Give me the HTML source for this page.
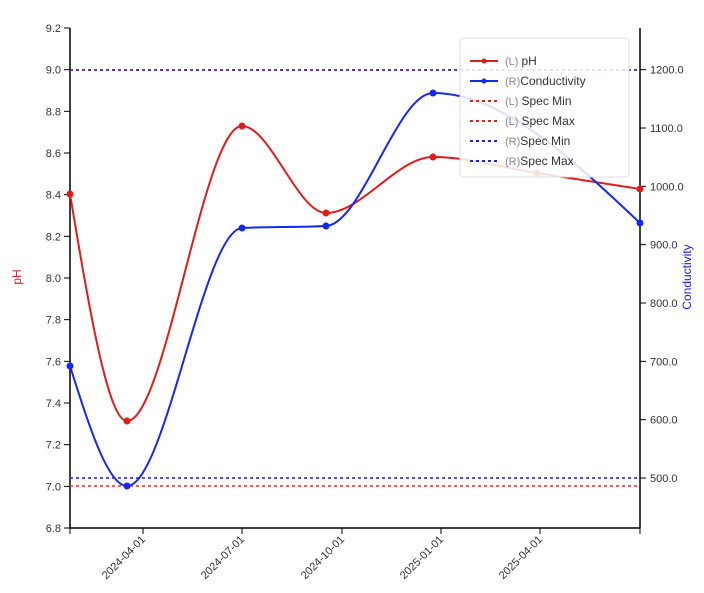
<!DOCTYPE html>
<html><head><meta charset="utf-8"><style>
body{margin:0;background:#fff;}
svg{display:block;font-family:"Liberation Sans",sans-serif;}
</style></head><body>
<svg id="s" width="704" height="593" viewBox="0 0 704 593">
<g font-size="11" fill="#333">
<line x1="70" y1="28" x2="70" y2="528" stroke="#000" stroke-width="1.5"/>
<line x1="640" y1="28" x2="640" y2="528" stroke="#000" stroke-width="1.5"/>
<line x1="70" y1="528" x2="640" y2="528" stroke="#000" stroke-width="1.5"/>
<g id="lt" text-anchor="end"></g>
<g id="rt"></g>
<g id="bt"></g>
</g>
<text transform="translate(21,277) rotate(-90)" text-anchor="middle" font-size="12" fill="#d42020">pH</text>
<text transform="translate(691,277) rotate(-90)" text-anchor="middle" font-size="12" fill="#1a1ae6">Conductivity</text>
<line x1="70" y1="486" x2="640" y2="486" stroke="#f04040" stroke-width="2" stroke-dasharray="3,3" opacity="0.85"/>
<line x1="70" y1="478" x2="640" y2="478" stroke="#3030f0" stroke-width="2" stroke-dasharray="3,3" opacity="0.85"/>
<line x1="70" y1="70" x2="640" y2="70" stroke="#e02020" stroke-width="2" stroke-dasharray="3,3" opacity="0.8"/>
<line x1="70" y1="70" x2="640" y2="70" stroke="#2020e0" stroke-width="2" stroke-dasharray="3,3" opacity="0.6"/>
<path id="p1" fill="none" stroke="#dd1c1c" stroke-width="2"/>
<path id="p2" fill="none" stroke="#1428ee" stroke-width="2"/>
<g id="dots"></g>
<rect x="460" y="38" width="169" height="139" rx="4" fill="#fff" fill-opacity="0.85" stroke="#ddd"/>
<g font-size="12">
<line x1="470" y1="61" x2="498" y2="61" stroke="#dd1c1c" stroke-width="2"/><circle cx="484" cy="61" r="2.5" fill="#dd1c1c"/>
<text x="505" y="65"><tspan fill="#888" font-size="11">(L) </tspan><tspan fill="#333">pH</tspan></text>
<line x1="470" y1="81" x2="498" y2="81" stroke="#1428ee" stroke-width="2"/><circle cx="484" cy="81" r="2.5" fill="#1428ee"/>
<text x="505" y="85"><tspan fill="#888" font-size="11">(R)</tspan><tspan fill="#333">Conductivity</tspan></text>
<line x1="470" y1="101" x2="498" y2="101" stroke="#e02020" stroke-width="2" stroke-dasharray="3,3"/>
<text x="505" y="105"><tspan fill="#888" font-size="11">(L) </tspan><tspan fill="#333">Spec Min</tspan></text>
<line x1="470" y1="121" x2="498" y2="121" stroke="#e02020" stroke-width="2" stroke-dasharray="3,3"/>
<text x="505" y="125"><tspan fill="#888" font-size="11">(L) </tspan><tspan fill="#333">Spec Max</tspan></text>
<line x1="470" y1="141" x2="498" y2="141" stroke="#2020e0" stroke-width="2" stroke-dasharray="3,3"/>
<text x="505" y="145"><tspan fill="#888" font-size="11">(R)</tspan><tspan fill="#333">Spec Min</tspan></text>
<line x1="470" y1="161" x2="498" y2="161" stroke="#2020e0" stroke-width="2" stroke-dasharray="3,3"/>
<text x="505" y="165"><tspan fill="#888" font-size="11">(R)</tspan><tspan fill="#333">Spec Max</tspan></text>
</g>
</svg>
<script>
var NS="http://www.w3.org/2000/svg";
function el(p,t,a,txt){var e=document.createElementNS(NS,t);for(var k in a)e.setAttribute(k,a[k]);if(txt!=null)e.textContent=txt;document.getElementById(p).appendChild(e);return e;}
for(var i=0;i<=12;i++){var v=6.8+i*0.2,y=528-i*41.667;
el("lt","line",{x1:64,x2:70,y1:y,y2:y,stroke:"#000"});
el("lt","text",{x:61,y:y+4},v.toFixed(1));}
for(var c=500;c<=1200;c+=100){var y=478-(c-500)*0.5833;
el("rt","line",{x1:640,x2:646,y1:y,y2:y,stroke:"#000"});
el("rt","text",{x:650,y:y+4},c.toFixed(1));}
var xs=[[143,"2024-04-01"],[242,"2024-07-01"],[342,"2024-10-01"],[441,"2025-01-01"],[540,"2025-04-01"]];
el("bt","line",{x1:70,x2:70,y1:528,y2:534,stroke:"#000"});
el("bt","line",{x1:640,x2:640,y1:528,y2:534,stroke:"#000"});
xs.forEach(function(t){el("bt","line",{x1:t[0],x2:t[0],y1:528,y2:534,stroke:"#000"});
el("bt","text",{transform:"translate("+(t[0]+3)+",540) rotate(-45)","text-anchor":"end"},t[1]);});
function mono(P){var n=P.length,s=[],m=[];
for(var i=0;i<n-1;i++)s.push((P[i+1][1]-P[i][1])/(P[i+1][0]-P[i][0]));
for(var i=1;i<n-1;i++){var h0=P[i][0]-P[i-1][0],h1=P[i+1][0]-P[i][0],s0=s[i-1],s1=s[i];
var p=(s0*h1+s1*h0)/(h0+h1);m[i]=(s0*s1<=0)?0:(s0>0?1:-1)*Math.min(Math.abs(s0),Math.abs(s1),0.5*Math.abs(p))*2;}
m[0]=(3*s[0]-m[1])/2;m[n-1]=(3*s[n-2]-m[n-2])/2;
var d="M"+P[0][0]+","+P[0][1];
for(var i=0;i<n-1;i++){var dx=(P[i+1][0]-P[i][0])/3;
d+="C"+(P[i][0]+dx)+","+(P[i][1]+dx*m[i])+" "+(P[i+1][0]-dx)+","+(P[i+1][1]-dx*m[i+1])+" "+P[i+1][0]+","+P[i+1][1];}
return d;}
var a=[[70,194],[127,421],[242,126],[326,213],[433,157],[537,173],[640,189]];
var b=[[70,366],[127,486],[242,228],[326,226],[433,93],[640,223]];
document.getElementById("p1").setAttribute("d",mono(a));
document.getElementById("p2").setAttribute("d",mono(b));
a.forEach(function(p){el("dots","circle",{cx:p[0],cy:p[1],r:3.5,fill:"#dd1c1c"});});
b.forEach(function(p){el("dots","circle",{cx:p[0],cy:p[1],r:3.5,fill:"#1428ee"});});
</script>
</body></html>
